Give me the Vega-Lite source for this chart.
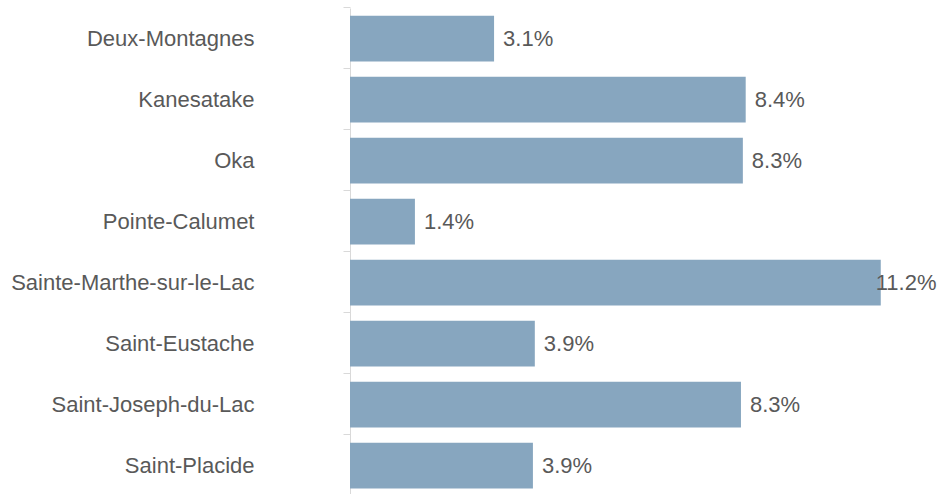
{
  "$schema": "https://vega.github.io/schema/vega-lite/v6.json",
  "autosize": "none",
  "width": 590,
  "height": 488,
  "padding": {"left": 350, "top": 8, "right": 0, "bottom": 0},
  "background": "white",
  "config": {"view": {"stroke": null}, "font": "Liberation Sans"},
  "data": {"values": [
    {"name": "Deux-Montagnes", "value": 3.04, "label": "3.1%"},
    {"name": "Kanesatake", "value": 8.35, "label": "8.4%"},
    {"name": "Oka", "value": 8.29, "label": "8.3%"},
    {"name": "Pointe-Calumet", "value": 1.37, "label": "1.4%"},
    {"name": "Sainte-Marthe-sur-le-Lac", "value": 11.2, "label": "11.2%"},
    {"name": "Saint-Eustache", "value": 3.9, "label": "3.9%"},
    {"name": "Saint-Joseph-du-Lac", "value": 8.25, "label": "8.3%"},
    {"name": "Saint-Placide", "value": 3.86, "label": "3.9%"}
  ]},
  "encoding": {
    "y": {"field": "name", "type": "nominal", "sort": null,
      "scale": {"paddingInner": 0.25, "paddingOuter": 0.125},
      "axis": {"title": null, "domainColor": "#d9d9d9", "tickColor": "#d9d9d9", "tickSize": 7,
        "bandPosition": -0.167, "labelPadding": 89, "labelFontSize": 22, "labelColor": "#595959",
        "labelFont": "Liberation Sans", "labelLimit": 400}},
    "x": {"field": "value", "type": "quantitative", "scale": {"domain": [0, 12.45]}, "axis": null}
  },
  "layer": [
    {"mark": {"type": "bar", "color": "#87a6bf"}},
    {"transform": [{"filter": "datum.value < 11"}],
     "mark": {"type": "text", "align": "left", "dx": 9, "fontSize": 22, "color": "#595959", "font": "Liberation Sans"},
     "encoding": {"text": {"field": "label"}}},
    {"transform": [{"filter": "datum.value >= 11"}],
     "mark": {"type": "text", "align": "left", "dx": -5, "fontSize": 22, "color": "#595959", "font": "Liberation Sans"},
     "encoding": {"text": {"field": "label"}}}
  ]
}
